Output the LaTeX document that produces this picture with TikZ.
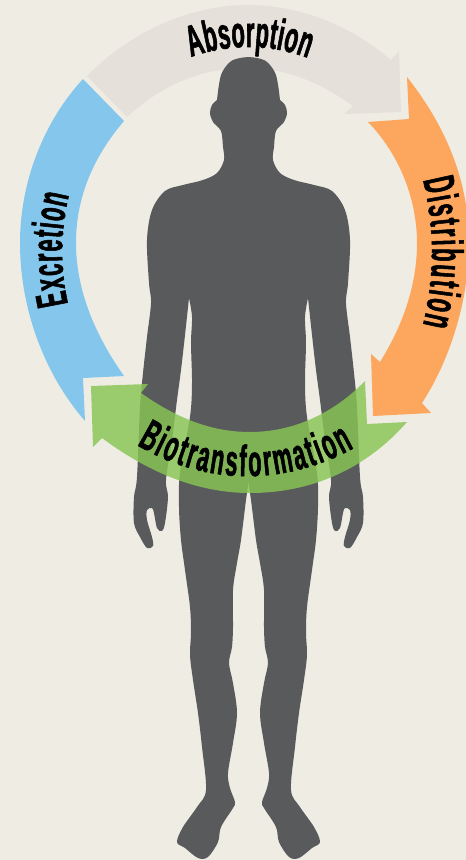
\documentclass[tikz,border=0pt]{standalone}
\usepackage{fontspec}
\usetikzlibrary{decorations.text}
\newfontfamily\labelfont[FakeStretch=0.5,FakeBold=1.2]{Liberation Sans Bold}
\definecolor{bgc}{HTML}{EFECE4}
\definecolor{bodyc}{HTML}{595A5C}
\definecolor{absc}{HTML}{E6E0DB}
\definecolor{bluec}{HTML}{85C7EC}
\definecolor{orangec}{HTML}{FDA65D}
\definecolor{greenc}{RGB}{136,198,84}
\tikzset{
  curve/.style={smooth,tension=0.55},
  bodyfill/.style={fill=bodyc},
  arc label/.style={decorate,decoration={text along path,text align={fit to path},
     text={|\fontsize{25}{25}\labelfont|#1}}}
}
\newcommand{\bodyhalf}{%
  \fill[bodyfill] plot[curve] coordinates {(250,57)(240,58)(230,62)(221,75)(217,100)}
   -- plot[curve] coordinates {(217,100)(212,105)(210,113)(213,122)(221,131)(223,147)(224,160)(217,173)(203,180)(183,185)(165,191)(152,210)(147,240)(149,283)(151,303)(147,337)(143,373)(140,407)(137,477)(134,497)(134,523)(140,537)(147,548)(153,546)(152,537)(147,520)(147,510)(152,508)(154,513)(157,528)(162,531)(165,523)(168,497)(166,480)(172,440)(177,400)(181,370)(185,335)(189,298)}
   -- plot[curve] coordinates {(189,298)(192,317)(191,343)(192,383)(190,417)(180,473)(179,507)(181,540)(185,570)(190,607)(191,633)(190,655)(193,680)(198,713)(202,747)(206,790)(197,807)(183,827)(177,842)(185,848)(198,858)(208,857)(218,842)(221,827)(233,808)(235,802)(230,788)(228,773)(233,743)(237,713)(233,683)(229,663)(232,647)(233,627)(233,590)(237,563)(241,540)(246,500)(249,480)}
   -- (251,480) -- (251,57) -- cycle;}
\begin{document}
\begin{tikzpicture}[x=0.02cm,y=-0.02cm]
\useasboundingbox (0,0) rectangle (466,860);
\clip (0,0) rectangle (466,860);
\fill[bgc] (0,0) rectangle (466,860);
% Absorption
\fill[absc] (87,76) .. controls (130,32) and (190,5) .. (247,5)
  .. controls (300,5) and (350,25) .. (391,60)
  -- (399,51) -- (401,112) -- (344,114) -- (353,106)
  .. controls (320,82) and (285,68) .. (247,68)
  .. controls (205,68) and (165,82) .. (127,117) -- cycle;
% Excretion
\fill[bluec] (83,79) .. controls (45,120) and (20,180) .. (20,243)
  .. controls (20,310) and (45,375) .. (85,421)
  -- (83,378) -- (124,376)
  .. controls (95,335) and (76,290) .. (76,243)
  .. controls (76,195) and (95,155) .. (124,121) -- cycle;
% Distribution
\fill[orangec] (407,77) .. controls (445,125) and (469,180) .. (469,243)
  .. controls (469,300) and (450,360) .. (422,403)
  -- (431,413) -- (373,416) -- (371,354) -- (380,362)
  .. controls (403,325) and (417,285) .. (417,243)
  .. controls (417,200) and (400,155) .. (368,122)
  -- (409,119) -- cycle;
% Body
\bodyhalf
\begin{scope}[shift={(497,0)},xscale=-1]
\bodyhalf
\end{scope}
% Biotransformation
\fill[greenc,fill opacity=0.82] (91,386) -- (148,384) -- (141,393)
  .. controls (175,417) and (210,432) .. (250,432)
  .. controls (295,432) and (335,412) .. (365,381)
  -- (367,424) -- (407,422)
  .. controls (365,470) and (310,493) .. (250,493)
  .. controls (195,493) and (145,470) .. (102,438)
  -- (93,447) -- cycle;
% Labels
\coordinate (absA) at (191,57); \coordinate (absB) at (308,58);
\coordinate (excA) at (68,304); \coordinate (excB) at (69,195);
\coordinate (disA) at (423,180); \coordinate (disB) at (423,325);
\coordinate (bioA) at (137,445); \coordinate (bioB) at (354,448);
\path[arc label={Absorption}] (absA) .. controls (230,43.5) and (269,43.5) .. (absB);
\path[arc label={Excretion}] (excA) .. controls (60,268) and (60,232) .. (excB);
\path[arc label={Distribution}] (disA) .. controls (435,229) and (435,275) .. (disB);
\path[arc label={Biotransformation}] (bioA) .. controls (205,486) and (285,486) .. (bioB);
\end{tikzpicture}
\end{document}
